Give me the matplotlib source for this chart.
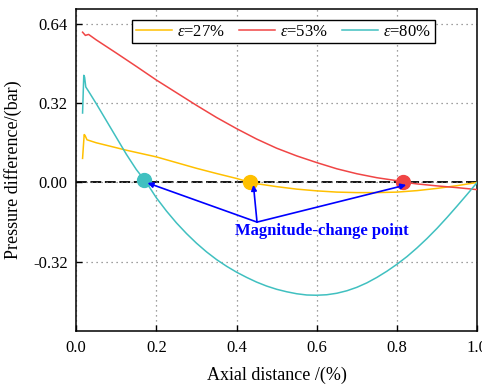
import matplotlib
matplotlib.use("Agg")
import matplotlib.pyplot as plt

plt.rcParams['font.family'] = ['Liberation Serif', 'DejaVu Serif']
plt.rcParams['mathtext.fontset'] = 'custom'
plt.rcParams['mathtext.rm'] = 'Liberation Serif'
plt.rcParams['mathtext.it'] = 'Liberation Serif:italic'

# data
x27 = [0.016, 0.020, 0.022, 0.027, 0.05, 0.075, 0.10, 0.125, 0.15, 0.175, 0.20, 0.25, 0.30, 0.35, 0.40, 0.435, 0.45, 0.50, 0.55, 0.60, 0.65, 0.70, 0.75, 0.80, 0.85, 0.90, 0.95, 1.00]
y27 = [0.097, 0.193, 0.190, 0.172, 0.160, 0.150, 0.140, 0.130, 0.121, 0.112, 0.103, 0.080, 0.057, 0.036, 0.016, 0.000, -0.005, -0.017, -0.027, -0.034, -0.039, -0.041, -0.041, -0.039, -0.033, -0.024, -0.013, 0.000]

x53 = [0.016, 0.023, 0.031, 0.05, 0.10, 0.15, 0.20, 0.25, 0.30, 0.35, 0.40, 0.45, 0.50, 0.55, 0.60, 0.65, 0.70, 0.75, 0.80, 0.82, 0.85, 0.90, 0.95, 1.00]
y53 = [0.606, 0.593, 0.597, 0.575, 0.522, 0.468, 0.413, 0.362, 0.311, 0.262, 0.217, 0.175, 0.138, 0.107, 0.080, 0.055, 0.035, 0.019, 0.007, 0.000, -0.006, -0.014, -0.021, -0.029]

x80 = [0.016, 0.019, 0.021, 0.024, 0.030, 0.05, 0.075, 0.10, 0.125, 0.15, 0.175, 0.20, 0.225, 0.25, 0.275, 0.30, 0.325, 0.35, 0.375, 0.40, 0.425, 0.45, 0.475, 0.50, 0.525, 0.55, 0.575, 0.60, 0.625, 0.65, 0.675, 0.70, 0.725, 0.75, 0.775, 0.80, 0.825, 0.85, 0.875, 0.90, 0.925, 0.95, 0.975, 1.00]
y80 = [0.280, 0.432, 0.425, 0.385, 0.370, 0.318, 0.250, 0.182, 0.114, 0.052, 0.000, -0.062, -0.115, -0.163, -0.206, -0.245, -0.280, -0.311, -0.338, -0.362, -0.383, -0.402, -0.418, -0.431, -0.441, -0.449, -0.454, -0.455, -0.453, -0.447, -0.437, -0.423, -0.405, -0.383, -0.358, -0.330, -0.299, -0.264, -0.226, -0.185, -0.141, -0.095, -0.048, 0.000]

labels = [r'$\varepsilon$=27%', r'$\varepsilon$=53%', r'$\varepsilon$=80%']
colors = ['#FFC000', '#F04545', '#40C0C0']

change_x = [0.170, 0.434, 0.815]
change_y = [0.008, 0.000, 0.000]
change_colors = ['#40C0C0', '#FFC000', '#F04545']

xticks = [0.0, 0.2, 0.4, 0.6, 0.8, 1.0]
xtick_labels = ['0.0', '0.2', '0.4', '0.6', '0.8', '1.0']
yticks = [-0.32, 0.00, 0.32, 0.64]
ytick_labels = ['-0.32', '0.00', '0.32', '0.64']

fig = plt.figure(figsize=(4.82, 3.86), dpi=100)
ax = fig.add_axes([0.158, 0.142, 0.832, 0.835])

ax.axhline(0, color='black', lw=1.3, ls=(0, (6, 2)), zorder=1)
for xs, ys, c, l in zip([x27, x53, x80], [y27, y53, y80], colors, labels):
    ax.plot(xs, ys, color=c, lw=1.1, label=l, zorder=3)

for cx, cy, cc in zip(change_x, change_y, change_colors):
    ax.plot(cx, cy, 'o', color=cc, ms=10, zorder=4)

text_xy = (0.451, -0.160)
for cx, cy in zip(change_x, change_y):
    ax.annotate('', xy=(cx + 0.008, cy - 0.01), xytext=text_xy,
                arrowprops=dict(arrowstyle='-|>', color='blue', lw=1.2,
                                mutation_scale=8, shrinkA=0, shrinkB=0), zorder=5)
ax.text(0.612, -0.197, 'Magnitude-change point', color='blue', fontweight='bold',
        fontsize=12, ha='center', va='center', zorder=6)

ax.set_xlim(0, 1.0)
ax.set_ylim(-0.60, 0.70)
ax.set_xticks(xticks)
ax.set_xticklabels(xtick_labels)
ax.set_yticks(yticks)
ax.set_yticklabels(ytick_labels)
ax.tick_params(direction='in', length=4, width=1, labelsize=12)
ax.tick_params(axis='x', pad=6)
ax.tick_params(axis='y', pad=6)
ax.grid(True, color='gray', ls=(0, (1, 3)), lw=0.9)
for s in ax.spines.values():
    s.set_linewidth(1.1)

ax.set_xlabel('Axial distance /(%)', fontsize=13, labelpad=8)
ax.set_ylabel('Pressure difference/(bar)', fontsize=13, labelpad=8)

leg = ax.legend(loc='upper center', bbox_to_anchor=(0.517, 0.964), ncol=3, fontsize=12,
                frameon=True, fancybox=False, edgecolor='black', framealpha=1,
                handlelength=2.2, columnspacing=0.8, handletextpad=0.3,
                borderpad=0.2, borderaxespad=0)
leg.get_frame().set_linewidth(1.0)

fig.savefig('out.png', dpi=100)
